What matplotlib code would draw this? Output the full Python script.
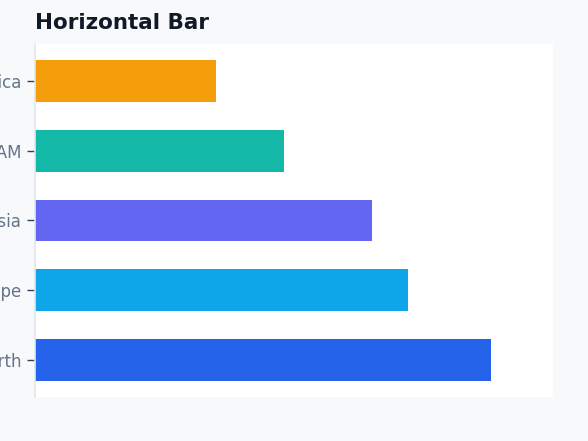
import matplotlib
matplotlib.use("Agg")
import matplotlib.pyplot as plt

# regions, bottom to top
regions = ["North", "Europe", "Asia", "LATAM", "Africa"]
values = [88, 72, 65, 48, 35]
colors = ["#2563eb", "#0ea5e9", "#6366f1", "#14b8a6", "#f59e0b"]

fig = plt.figure(figsize=(5.88, 4.41), dpi=100)
fig.patch.set_facecolor("#f8f9fb")
ax = fig.add_axes([0.0595, 0.1, 0.881, 0.8])
ax.set_facecolor("white")

ax.barh(regions, values, height=0.6, color=colors)
ax.set_xlim(0, 100)

# only left spine, very light
for s in ["top", "right", "bottom"]:
    ax.spines[s].set_visible(False)
ax.spines["left"].set_color("#e2e8f0")
ax.spines["left"].set_linewidth(1.2)

ax.set_xticks([])
ax.tick_params(axis="y", colors="#334155", length=6, width=1, pad=3.5,
               labelsize=12, labelcolor="#64748b")

ax.set_title("Horizontal Bar", loc="left", fontsize=15.5, fontweight="bold",
             color="#111827", pad=11)

fig.savefig("out.png", dpi=100, facecolor=fig.get_facecolor())
